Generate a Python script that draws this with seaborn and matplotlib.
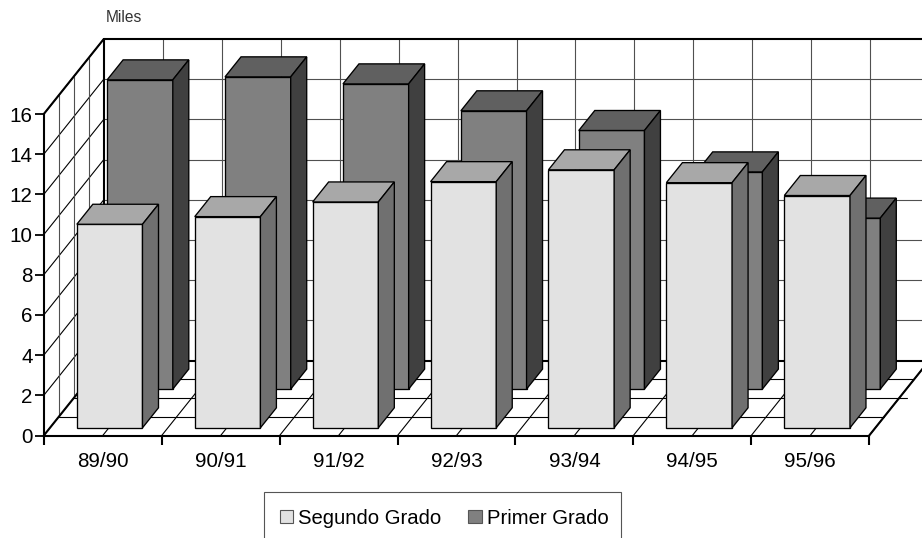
#!/usr/bin/env python3

import pandas as pd
import matplotlib
matplotlib.use("Agg")
import matplotlib.pyplot as plt
from matplotlib.patches import Patch, Polygon, Rectangle
from matplotlib.lines import Line2D
from matplotlib.transforms import Affine2D, IdentityTransform
import seaborn as sns

seasons = ["89/90", "90/91", "91/92", "92/93", "93/94", "94/95", "95/96"]
segundo_grado = [10.13, 10.51, 11.24, 12.25, 12.84, 12.20, 11.56]
primer_grado = [15.39, 15.54, 15.19, 13.85, 12.87, 10.81, 8.51]
y_ticks = [0, 2, 4, 6, 8, 10, 12, 14, 16]

# pixel offsets of the fake 3D projection
WALL_DX, WALL_DY = 60, 75
BAR_DX, BAR_DY = 16, 20
FRONT_DX, FRONT_DY = 6.9, 7.7
BACK_DX, BACK_DY = 37.2, 46.4
GRID = "#505050"

sns.set_style("white")
plt.rcParams["font.family"] = ["Liberation Sans", "DejaVu Sans"]

fig = plt.figure(figsize=(9.22, 5.38), dpi=100)
ax = fig.add_axes([43.8 / 922, (538 - 435.5) / 538, 825.4 / 922, 321.5 / 538])
ax.patch.set_visible(False)

dframe = pd.DataFrame({"season": seasons, "Segundo Grado": segundo_grado,
                       "Primer Grado": primer_grado})

sns.barplot(data=dframe, x="season", y="Primer Grado", color="#808080", saturation=1,
            width=0.557, edgecolor="black", linewidth=0.95, ax=ax)
sns.barplot(data=dframe, x="season", y="Segundo Grado", color="#e2e2e2", saturation=1,
            width=0.557, edgecolor="black", linewidth=0.95, ax=ax)
ax.set_xlim(-0.5, 6.5)
ax.set_ylim(0, 16)


def to_px(x, y, dx=0, dy=0):
    px, py = ax.transData.transform((x, y))
    return px + dx, py + dy


def line(p0, p1, lw=0.8, color=GRID, z=1.0):
    ax.add_line(Line2D([p0[0], p1[0]], [p0[1], p1[1]], transform=IdentityTransform(),
                       color=color, lw=lw, zorder=z, clip_on=False))


# back wall and left wall
for v in y_ticks:
    line(to_px(-0.5, v), to_px(-0.5, v, WALL_DX, WALL_DY), color="black" if v else GRID)
    if 0 < v < 16:
        line(to_px(-0.5, v, WALL_DX, WALL_DY), to_px(6.5, v, WALL_DX, WALL_DY))

# verticals on the back wall and diagonals on the floor, every half category
for i in range(0, 15):
    x = -0.5 + i / 2
    if i > 0:
        line(to_px(x, 0, WALL_DX, WALL_DY), to_px(x, 16, WALL_DX, WALL_DY))
        line(to_px(x, 0), to_px(x, 0, WALL_DX, WALL_DY), color="black")

# depth divisions on the floor and left wall
for k in [1, 2, 3]:
    dx, dy = WALL_DX * k / 4, WALL_DY * k / 4
    line(to_px(-0.5, 0, dx, dy), to_px(-0.5, 16, dx, dy))
    right = to_px(6.5, 0, dx, dy)
    if k == 2:
        right = (right[0] + 8, right[1])
    line(to_px(-0.5, 0, dx, dy), right, color="black")

# heavy frame of the walls
for p0, p1 in [(to_px(-0.5, 0), to_px(-0.5, 0, WALL_DX, WALL_DY)),
               (to_px(-0.5, 16), to_px(-0.5, 16, WALL_DX, WALL_DY)),
               (to_px(-0.5, 0, WALL_DX, WALL_DY), to_px(-0.5, 16, WALL_DX, WALL_DY)),
               (to_px(-0.5, 16, WALL_DX, WALL_DY), to_px(6.5, 16, WALL_DX, WALL_DY)),
               (to_px(-0.5, 0, WALL_DX, WALL_DY), to_px(6.5, 0, WALL_DX, WALL_DY)),
               (to_px(6.5, 0), to_px(6.5, 0, WALL_DX, WALL_DY))]:
    line(p0, p1, lw=1.5, color="black", z=1.5)


def extrude(bars, dx, dy, top_color, side_color, z):
    for bar in bars:
        bar.set_transform(ax.transData + Affine2D().translate(dx, dy))
        bar.set_clip_on(False)
        bar.set_zorder(z)
        x0, x1 = bar.get_x(), bar.get_x() + bar.get_width()
        h = bar.get_height()
        a = to_px(x0, h, dx, dy)
        b = to_px(x1, h, dx, dy)
        c = to_px(x1, 0, dx, dy)
        top = [a, b, (b[0] + BAR_DX, b[1] + BAR_DY), (a[0] + BAR_DX, a[1] + BAR_DY)]
        side = [b, c, (c[0] + BAR_DX, c[1] + BAR_DY), (b[0] + BAR_DX, b[1] + BAR_DY)]
        for pts, col in [(top, top_color), (side, side_color)]:
            ax.add_patch(Polygon(pts, closed=True, transform=IdentityTransform(), fc=col,
                                 ec="black", lw=0.95, zorder=z, clip_on=False))


extrude(ax.containers[0], BACK_DX, BACK_DY, "#606060", "#404040", 2)
extrude(ax.containers[1], FRONT_DX, FRONT_DY, "#a8a8a8", "#707070", 3)

sns.despine(ax=ax)
ax.spines["left"].set_linewidth(1.5)
ax.spines["bottom"].set_linewidth(1.5)
ax.spines["left"].set_color("black")
ax.spines["bottom"].set_color("black")

ax.set_xlabel("")
ax.set_ylabel("")
ax.set_yticks(y_ticks)
ax.set_xticks([i - 0.5 for i in range(8)], minor=True)
ax.tick_params(axis="x", which="major", length=0, pad=12, labelsize=14.9, labelcolor="black")
ax.tick_params(axis="x", which="minor", bottom=True, length=6.5, width=1.5, color="black")
ax.tick_params(axis="y", which="major", left=True, length=6.5, width=1.3, color="black",
               pad=1.5, labelsize=14.9, labelcolor="black")

fig.text(106 / 922, 1 - 18 / 538, "Miles", fontsize=11.2, color="#333333", ha="left", va="center")

# legend frame runs off the bottom of the picture, drawn under the axes
fig.add_artist(Rectangle((263.5 / 922, 1 - 545 / 538), 357.5 / 922, 53.3 / 538, transform=fig.transFigure,
                         fc="white", ec="#555555", lw=0.8, zorder=-1))
handles = [Patch(fc="#e2e2e2", ec="#555555", lw=0.8, label="Segundo Grado"),
           Patch(fc="#808080", ec="#555555", lw=0.8, label="Primer Grado")]
leg = ax.legend(handles=handles, ncols=2, loc="upper left", bbox_to_anchor=(279.5 / 922, 1 - 508.5 / 538),
                bbox_transform=fig.transFigure, borderaxespad=0, borderpad=0, fontsize=14.6, frameon=False,
                handlelength=0.65, handleheight=0.65, handletextpad=0.25, columnspacing=1.35,
                labelcolor="black")
leg.set_zorder(5)

fig.savefig("out.png", dpi=100)
